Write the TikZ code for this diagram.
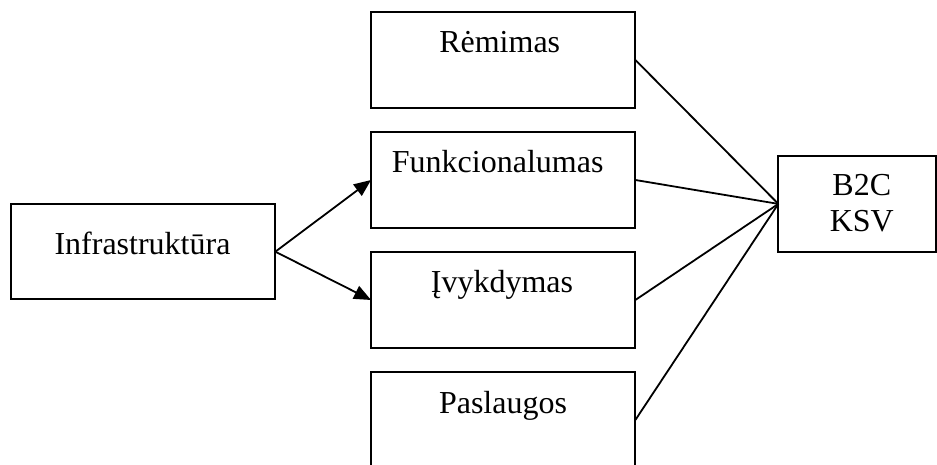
\documentclass[tikz,border=0pt]{standalone}
\usepackage{fontspec}
\setmainfont{Liberation Serif}
\usetikzlibrary{arrows.meta}
\begin{document}
\begin{tikzpicture}[x=1pt,y=-1pt,
  box/.style={draw=black, line width=1.8pt, rectangle, inner sep=0pt, outer sep=0pt, fill=white},
  txt/.style={inner sep=0pt, anchor=base, font=\fontsize{32}{35.7}\selectfont},
  conn/.style={draw=black, line width=1.8pt},
  arr/.style={conn, -{Triangle[length=17pt,width=14pt]}}]
\useasboundingbox (0,0) rectangle (937,465);
\clip (0,0) rectangle (937,465);
\fill[white] (0,0) rectangle (937,465);
% boxes
\node[box, minimum width=264.3pt, minimum height=95.4pt] (rem) at (503.2,60) {};
\node[box, minimum width=264.3pt, minimum height=95.4pt] (fun) at (503.2,180) {};
\node[box, minimum width=264.3pt, minimum height=95.4pt] (ivy) at (503.2,300) {};
\node[box, minimum width=264.3pt, minimum height=95.4pt] (pas) at (503.2,420) {};
\node[box, minimum width=264.3pt, minimum height=95.3pt] (inf) at (143.2,251.7) {};
\node[box, minimum width=157.7pt, minimum height=95.7pt] (b2c) at (857.2,203.9) {};
% texts
\node[txt] (remt) at (499.7,52.7) {Rėmimas};
\node[txt, anchor=base west] (funt) at (391.7,172.7) {Funkcionalumas};
\node[txt] (ivyt) at (502,292.7) {Įvykdymas};
\node[txt] (past) at (503,413.3) {Paslaugos};
\node[txt] (inft) at (142.5,254.3) {Infrastruktūra};
\node[txt] (b2ct1) at (861.8,196) {B2C};
\node[txt] (b2ct2) at (861.8,231.7) {KSV};
% connectors
\draw[arr] (inf.east) -- (fun.west);
\draw[arr] (inf.east) -- (ivy.west);
\draw[conn] (rem.east) -- (b2c.west);
\draw[conn] (fun.east) -- (b2c.west);
\draw[conn] (ivy.east) -- (b2c.west);
\draw[conn] (pas.east) -- (b2c.west);
\end{tikzpicture}
\end{document}
